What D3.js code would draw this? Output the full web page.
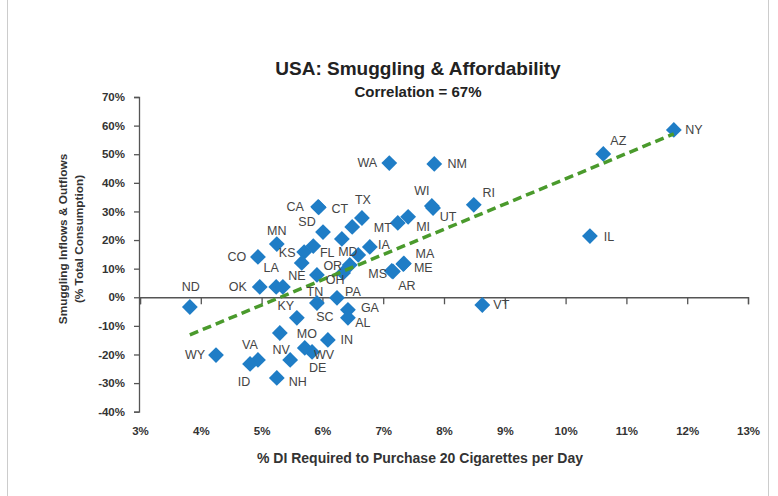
<!DOCTYPE html>
<html>
<head>
<meta charset="utf-8">
<script src="https://cdn.jsdelivr.net/npm/d3@7"></script>
<style>
  body { margin: 0; background: #fff; }
  svg { display: block; font-family: "Liberation Sans", Arial, sans-serif; }
</style>
</head>
<body>
<svg id="chart" width="778" height="496"></svg>
<script>
// state codes ("" = point drawn without a label)
const states = ["NY", "AZ", "IL", "RI", "VT", "WA", "NM", "WI", "UT", "MI",
    "MT", "TX", "", "CA", "CT", "SD", "MD", "MN", "CO", "KS",
    "FL", "", "IA", "", "OR", "OH", "NE", "LA", "KY", "OK",
    "ND", "TN", "PA", "GA", "AL", "SC", "MO", "IN", "WV", "DE",
    "NV", "NH", "VA", "ID", "WY", "MS", "AR", "ME", "MA"];

// % of disposable income needed for 20 cigarettes a day
const affordability = [11.78, 10.62, 10.40, 8.49, 8.63, 7.10, 7.84, 7.80, 7.82, 7.41,
    7.24, 6.65, 6.49, 5.93, 5.94, 6.01, 6.32, 5.25, 4.94, 5.70,
    5.85, 5.66, 6.78, 6.59, 6.45, 6.34, 5.91, 5.24, 5.35, 4.97,
    3.82, 5.91, 6.24, 6.42, 6.42, 5.58, 5.30, 6.09, 5.83, 5.71,
    5.47, 5.25, 4.94, 4.81, 4.25, 7.14, 7.16, 7.33, 7.34];

// smuggling inflows (+) / outflows (-), % of total consumption
const smuggling = [58.5, 50.1, 21.4, 32.3, -2.7, 46.9, 46.6, 31.9, 31.2, 28.1,
    26.0, 27.7, 24.6, 31.6, 31.4, 22.8, 20.4, 18.6, 14.1, 15.8,
    17.9, 12.0, 17.6, 14.8, 11.3, 8.5, 7.8, 3.6, 3.6, 3.6,
    -3.4, -2.0, -0.2, -4.4, -7.2, -7.2, -12.5, -14.9, -19.1, -17.7,
    -21.9, -28.2, -21.9, -23.3, -20.2, 9.2, 9.0, 11.6, 11.8];

const xTicks = [3, 4, 5, 6, 7, 8, 9, 10, 11, 12, 13];
const yTicks = [-40, -30, -20, -10, 0, 10, 20, 30, 40, 50, 60, 70];

// where each label sits relative to its diamond (px)
const labelPos = {
    NY: [20, 0], AZ: [15, -13], IL: [19, 1], RI: [15, -12], VT: [19, 0],
    WA: [-22, 0], NM: [23, 0], WI: [-10, -15], UT: [15, 9], MI: [15, 10],
    MT: [-15, 5], TX: [1, -18], CA: [-23, 0], CT: [21, 1], SD: [-16, -10],
    MD: [6, 13], MN: [0, -13], CO: [-21, 0], KS: [-17, 1], FL: [14, 7],
    IA: [14, -2], OR: [-17, 1], OH: [-8, 7], NE: [-20, 1], LA: [-5, -19],
    KY: [3, 19], OK: [-22, 0], ND: [1, -20], TN: [-2, -11], PA: [16, -6],
    GA: [22, -2], AL: [15, 5], SC: [28, -1], MO: [27, 1], IN: [19, 0],
    WV: [12, 3], DE: [13, 20], NV: [-9, -10], NH: [21, 4], VA: [-8, -15],
    ID: [-6, 18], WY: [-21, 0], MS: [-14, 3], AR: [14, 14], ME: [20, 4],
    MA: [21, -10]
};

const svg = d3.select("#chart");

const x = d3.scaleLinear().domain([3, 13]).range([140, 748]);
const y = d3.scaleLinear().domain([-40, 70]).range([411.7, 97]);

const axisColor = "#555";
const textColor = "#333";

// titles
svg.append("text")
    .attr("x", 418).attr("y", 75)
    .attr("text-anchor", "middle")
    .attr("font-size", 19).attr("font-weight", "bold")
    .attr("fill", "#222")
    .text("USA: Smuggling & Affordability");

svg.append("text")
    .attr("x", 418).attr("y", 97)
    .attr("text-anchor", "middle")
    .attr("font-size", 15).attr("font-weight", "bold")
    .attr("fill", "#222")
    .text("Correlation = 67%");

// y axis
svg.append("g")
    .attr("transform", `translate(${x(3) - 1},0)`)
    .call(d3.axisLeft(y).tickValues(yTicks).tickSize(5).tickPadding(9)
        .tickFormat(d => d + "%"));

// x axis line through zero, labels at the bottom
svg.append("g")
    .attr("transform", `translate(0,${y(0)})`)
    .call(d3.axisBottom(x).tickValues(xTicks).tickSize(7).tickFormat(""));

const xLabels = svg.append("g")
    .attr("transform", `translate(0,${y(-40)})`)
    .call(d3.axisBottom(x).tickValues(xTicks).tickSize(0).tickPadding(15)
        .tickFormat(d => d + "%"));
xLabels.select(".domain").remove();

svg.selectAll(".domain, .tick line")
    .attr("stroke", axisColor).attr("stroke-width", 1.3);

svg.selectAll(".tick text")
    .attr("font-family", "Liberation Sans, Arial, sans-serif")
    .attr("font-size", 11.5).attr("font-weight", "bold")
    .attr("fill", textColor);

// axis titles
const yTitle = svg.append("text")
    .attr("transform", `translate(67,239) rotate(-90)`)
    .attr("text-anchor", "middle")
    .attr("font-size", 11.8).attr("font-weight", "bold")
    .attr("fill", textColor);
yTitle.append("tspan").attr("x", 0).attr("dy", 0).text("Smuggling Inflows & Outflows");
yTitle.append("tspan").attr("x", 0).attr("dy", 16).text("(% Total Consumption)");

svg.append("text")
    .attr("x", 420).attr("y", 463)
    .attr("text-anchor", "middle")
    .attr("font-size", 14).attr("font-weight", "bold")
    .attr("fill", textColor)
    .text("% DI Required to Purchase 20 Cigarettes per Day");

const points = states.map((s, i) => ({ s, ax: affordability[i], sm: smuggling[i] }));

// least-squares trend line
const mx = d3.mean(points, d => d.ax), my = d3.mean(points, d => d.sm);
const slope = d3.sum(points, d => (d.ax - mx) * (d.sm - my)) /
    d3.sum(points, d => (d.ax - mx) ** 2);
const x0 = d3.min(points, d => d.ax), x1 = d3.max(points, d => d.ax);

// diamonds
const diamond = d3.symbol().type(d3.symbolSquare).size(125);
svg.append("g").selectAll("path")
    .data(points)
    .join("path")
    .attr("d", diamond)
    .attr("transform", d => `translate(${x(d.ax)},${y(d.sm)}) rotate(45)`)
    .attr("fill", "#1f7dc6");

svg.append("line")
    .attr("x1", x(x0)).attr("y1", y(my + slope * (x0 - mx)))
    .attr("x2", x(x1)).attr("y2", y(my + slope * (x1 - mx)))
    .attr("stroke", "#4a9a2c").attr("stroke-width", 3.5)
    .attr("stroke-dasharray", "9,5");

// state labels
svg.append("g").selectAll("text")
    .data(points.filter(d => d.s))
    .join("text")
    .attr("x", d => x(d.ax) + labelPos[d.s][0])
    .attr("y", d => y(d.sm) + labelPos[d.s][1])
    .attr("text-anchor", "middle")
    .attr("dy", "0.35em")
    .attr("font-size", 12.5)
    .attr("fill", "#444")
    .text(d => d.s);

// light frame
svg.append("rect")
    .attr("x", 7.5).attr("y", -1).attr("width", 761).attr("height", 498)
    .attr("fill", "none").attr("stroke", "#ccc");
</script>
</body>
</html>
